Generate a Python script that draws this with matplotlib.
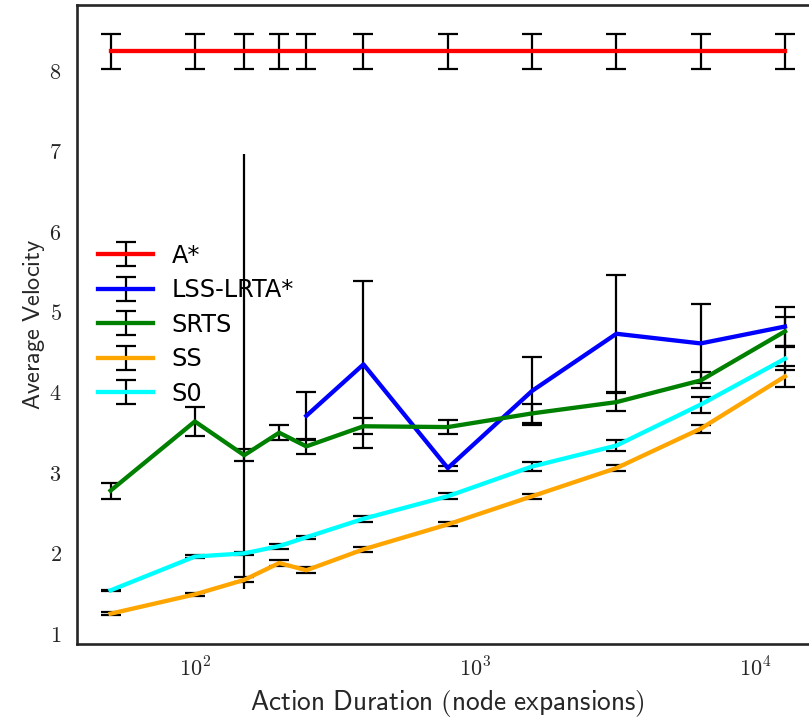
import numpy as np
import matplotlib
matplotlib.use("Agg")
import matplotlib.pyplot as plt
from matplotlib.ticker import FuncFormatter, NullFormatter, FixedLocator

plt.rcParams['mathtext.fontset'] = 'cm'

# action durations (node expansions)
durations = [50, 100, 150, 200, 250, 400, 800, 1600, 3200, 6400, 12800]

astar = [8.24, 8.24, 8.24, 8.24, 8.24, 8.24, 8.24, 8.24, 8.24, 8.24, 8.24]
astar_err = [0.215, 0.215, 0.215, 0.215, 0.215, 0.215, 0.215, 0.215, 0.215, 0.215, 0.215]

nan = np.nan
lss = [nan, nan, nan, nan, 3.71, 4.35, 3.06, 4.02, 4.73, 4.61, 4.82]
lss_err = [nan, nan, nan, nan, 0.30, 1.04, 0.03, 0.42, 0.73, 0.49, 0.24]
# lone LSS-LRTA* run at 150 expansions: (duration, mean, spread)
lss_lone = (150, 4.26, 2.70)

srts = [2.78, 3.64, 3.22, 3.50, 3.33, 3.58, 3.57, 3.74, 3.88, 4.15, 4.76]
srts_err = [0.10, 0.175, 0.075, 0.095, 0.09, 0.10, 0.085, 0.12, 0.11, 0.10, 0.18]

ss = [1.25, 1.49, 1.67, 1.88, 1.79, 2.05, 2.36, 2.71, 3.06, 3.55, 4.20]
ss_err = [0.02, 0.02, 0.03, 0.04, 0.04, 0.03, 0.025, 0.03, 0.04, 0.05, 0.13]

s0 = [1.54, 1.96, 2.00, 2.09, 2.20, 2.43, 2.71, 3.08, 3.34, 3.85, 4.42]
s0_err = [0.01, 0.02, 0.02, 0.03, 0.02, 0.04, 0.035, 0.06, 0.065, 0.10, 0.145]

series = [
    ("A*", astar, astar_err, "red"),
    ("LSS-LRTA*", lss, lss_err, "blue"),
    ("SRTS", srts, srts_err, "green"),
    ("SS", ss, ss_err, "orange"),
    ("S0", s0, s0_err, "cyan"),
]

fig = plt.figure(figsize=(8.09, 7.24), dpi=100)
# axes run slightly past the right edge of the figure
ax = fig.add_axes([0.095, 0.11, 0.917, 0.883])

for name, vals, errs, col in series:
    ax.errorbar(durations, vals, yerr=errs, color=col, lw=3.1, ecolor="black",
                elinewidth=1.6, capsize=7.5, capthick=1.6, label=name)

ax.errorbar([lss_lone[0]], [lss_lone[1]], yerr=[lss_lone[2]], fmt="none",
            ecolor="black", elinewidth=1.6, capsize=0)

ax.set_xscale("log")
ax.xaxis.set_major_locator(FixedLocator([100, 1000, 10000]))
ax.xaxis.set_major_formatter(FuncFormatter(lambda v, p: f"$10^{{{int(round(np.log10(v)))}}}$"))
ax.xaxis.set_minor_formatter(NullFormatter())
ax.set_yticks([1, 2, 3, 4, 5, 6, 7, 8])
ax.yaxis.set_major_formatter(FuncFormatter(lambda v, p: f"${int(v)}$"))
ax.tick_params(which="both", length=0, labelsize=16, colors="#262626")
ax.tick_params(axis="x", pad=9)
ax.tick_params(axis="y", pad=11)

for sp in ax.spines.values():
    sp.set_color("#262626")
    sp.set_linewidth(1.9)

ax.set_xlabel(r"$\mathsf{Action\ Duration\ (node\ expansions)}$", fontsize=19.7,
              color="#262626", labelpad=5)
ax.set_ylabel(r"$\mathsf{Average\ Velocity}$", fontsize=17.5, color="#262626", labelpad=1)

ax.legend(loc="center left", frameon=False, fontsize=17.3, labelspacing=0.44,
          handlelength=2.25)

fig.savefig("out.png", dpi=100)
